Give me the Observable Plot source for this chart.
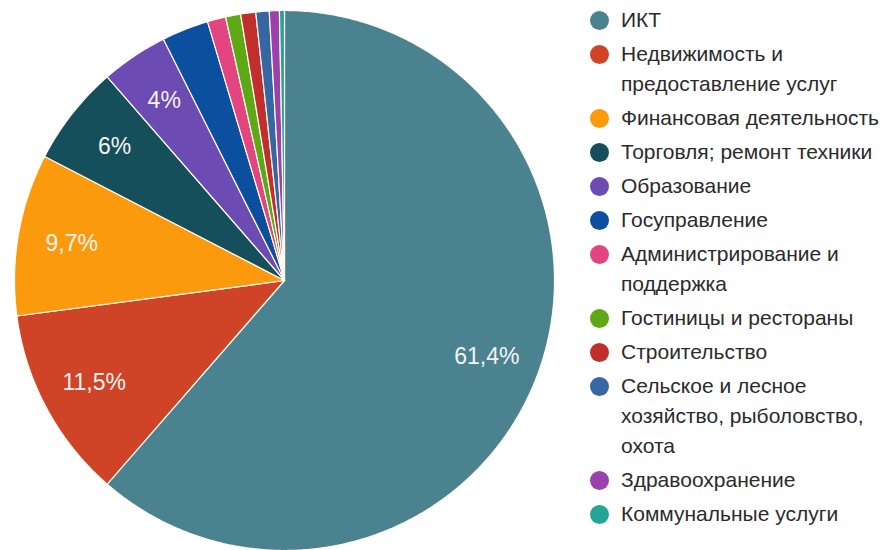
<!DOCTYPE html>
<html>
<head>
<meta charset="utf-8">
<script src="https://cdn.jsdelivr.net/npm/d3@7"></script>
<script src="https://cdn.jsdelivr.net/npm/@observablehq/plot@0.6"></script>
<style>
  html, body { margin: 0; padding: 0; background: #fff; }
  #wrap { position: relative; width: 887px; height: 550px; overflow: hidden; }
  #chart { position: absolute; left: 0; top: 0; }
  #legend { position: absolute; left: 590px; top: 5px; font-family: "Liberation Sans", Arial, sans-serif; font-size: 21px; color: #2b2b2b; }
  .item { position: relative; padding-left: 31px; line-height: 30px; margin-bottom: 4px; white-space: pre-line; }
  .sw { position: absolute; left: 0; top: 5.5px; width: 19px; height: 19px; border-radius: 50%; }
</style>
</head>
<body>
<div id="wrap"><div id="chart"></div><div id="legend"></div></div>
<script>
const categories = [
  "ИКТ",
  "Недвижимость и\nпредоставление услуг",
  "Финансовая деятельность",
  "Торговля; ремонт техники",
  "Образование",
  "Госуправление",
  "Администрирование и\nподдержка",
  "Гостиницы и рестораны",
  "Строительство",
  "Сельское и лесное\nхозяйство, рыболовство,\nохота",
  "Здравоохранение",
  "Коммунальные услуги"
];
const values = [61.4, 11.5, 9.7, 6, 4, 2.8, 1.1, 0.9, 0.9, 0.8, 0.6, 0.3];
const colors = ["#4a838f", "#cf4426", "#fa9a0c", "#144f5b", "#6c4bb3", "#0c4f9e",
                "#e2457f", "#5ea815", "#c12f2d", "#3667a3", "#9b40ad", "#22a595"];
const labelMin = 4; // slices with a printed percentage

// Build pie slice polygons in unit-circle data space (angle clockwise from top)
const total = d3.sum(values);
const polys = [];
const labels = [];
let acc = 0;
values.forEach((v, i) => {
  const a0 = acc / total * 2 * Math.PI;
  const a1 = (acc + v) / total * 2 * Math.PI;
  acc += v;
  const pts = [{cat: categories[i], x: 0, y: 0}];
  const n = Math.max(2, Math.ceil((a1 - a0) / (Math.PI / 360)));
  for (let k = 0; k <= n; k++) {
    const a = a0 + (a1 - a0) * k / n;
    pts.push({cat: categories[i], x: Math.sin(a), y: Math.cos(a)});
  }
  polys.push(...pts);
  if (v >= labelMin) {
    const m = (a0 + a1) / 2;
    labels.push({x: 0.8 * Math.sin(m), y: 0.8 * Math.cos(m), text: String(v).replace(".", ",") + "%"});
  }
});

const R = 270, CX = 284, CY = 280, W = 590, H = 550;
const chart = Plot.plot({
  width: W,
  height: H,
  margin: 0,
  x: {domain: [-CX / R, (W - CX) / R], range: [0, W], axis: null},
  y: {domain: [-(H - CY) / R, CY / R], range: [H, 0], axis: null},
  color: {type: "ordinal", domain: categories, range: colors},
  style: {background: "transparent"},
  marks: [
    Plot.line(polys, {x: "x", y: "y", z: "cat", fill: "cat", stroke: "#fffbf2", strokeWidth: 1.2, curve: "linear-closed"}),
    Plot.text(labels, {x: "x", y: "y", text: "text", fill: "#f4f4f4", fontSize: 23, fontFamily: "Liberation Sans, Arial, sans-serif"})
  ]
});
document.getElementById("chart").appendChild(chart);

const legend = document.getElementById("legend");
categories.forEach((c, i) => {
  const it = document.createElement("div");
  it.className = "item";
  const sw = document.createElement("span");
  sw.className = "sw";
  sw.style.background = colors[i];
  it.appendChild(sw);
  it.appendChild(document.createTextNode(c));
  legend.appendChild(it);
});
</script>
</body>
</html>
